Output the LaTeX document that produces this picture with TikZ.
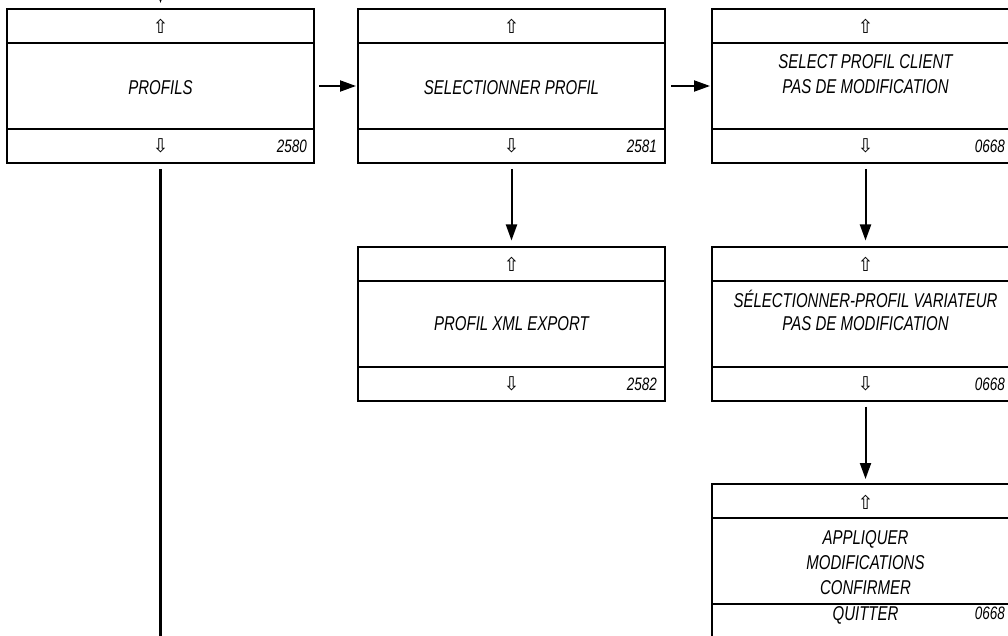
\documentclass[tikz,border=0pt]{standalone}
\usepackage{fontspec}
\usetikzlibrary{arrows.meta}
\newfontfamily\lcdfont[FakeStretch=0.75]{Liberation Sans}
\newfontfamily\symfont{DejaVu Sans}
\tikzset{
  screen/.style={draw,line width=2pt,minimum width=307pt,minimum height=154pt,inner sep=0pt},
  divider/.style={line width=2pt},
  lcd/.style={anchor=base,inner sep=0pt,font=\lcdfont\itshape\fontsize{20}{24}\selectfont},
  code/.style={anchor=base east,inner sep=0pt,font=\lcdfont\itshape\fontsize{18}{20}\selectfont},
  key/.style={anchor=base,inner sep=0pt,font=\symfont\fontsize{19}{21}\selectfont},
  flow/.style={-{Triangle[length=16pt,width=11pt]},line width=2pt}
}
\begin{document}
\begin{tikzpicture}[x=1pt,y=-1pt]
\path[use as bounding box] (0,0) rectangle (1008,636);
% screens
\node[screen] (profils) at (160.5,86) {};
\draw[divider] (7,43) -- (314,43);
\draw[divider] (7,129) -- (314,129);
\node[key] (profilsup) at (160.5,34) {⇧};
\node[lcd] (profilstxt) at (160.5,95) {PROFILS};
\node[key] (profilsdn) at (160.5,153) {⇩};
\node[code] (profilsnr) at (307,152.5) {2580};

\node[screen] (selprofil) at (511.5,86) {};
\draw[divider] (358,43) -- (665,43);
\draw[divider] (358,129) -- (665,129);
\node[key] (selprofilup) at (511.5,34) {⇧};
\node[lcd] (selprofiltxt) at (511.5,95) {SELECTIONNER PROFIL};
\node[key] (selprofildn) at (511.5,153) {⇩};
\node[code] (selprofilnr) at (657,152.5) {2581};

\node[screen] (selclient) at (865.5,86) {};
\draw[divider] (712,43) -- (1019,43);
\draw[divider] (712,129) -- (1019,129);
\node[key] (selclientup) at (865.5,34) {⇧};
\node[lcd] (selclienttxt1) at (865.5,69) {SELECT PROFIL CLIENT};
\node[lcd] (selclienttxt2) at (865.5,94) {PAS DE MODIFICATION};
\node[key] (selclientdn) at (865.5,153) {⇩};
\node[code] (selclientnr) at (1005,152.5) {0668};

\node[screen] (xmlexport) at (511.5,323.5) {};
\draw[divider] (358,280.5) -- (665,280.5);
\draw[divider] (358,366.5) -- (665,366.5);
\node[key] (xmlexportup) at (511.5,271.5) {⇧};
\node[lcd] (xmlexporttxt) at (511.5,330.5) {PROFIL XML EXPORT};
\node[key] (xmlexportdn) at (511.5,390.5) {⇩};
\node[code] (xmlexportnr) at (657,390) {2582};

\node[screen] (selvariateur) at (865.5,323.5) {};
\draw[divider] (712,280.5) -- (1019,280.5);
\draw[divider] (712,366.5) -- (1019,366.5);
\node[key] (selvariateurup) at (865.5,271.5) {⇧};
\node[lcd] (selvariateurtxt1) at (865.5,307) {SÉLECTIONNER-PROFIL VARIATEUR};
\node[lcd] (selvariateurtxt2) at (865.5,330.5) {PAS DE MODIFICATION};
\node[key] (selvariateurdn) at (865.5,390.5) {⇩};
\node[code] (selvariateurnr) at (1005,390) {0668};

\node[screen] (appliquer) at (865.5,561) {};
\draw[divider] (712,518) -- (1019,518);
\draw[divider] (712,604) -- (1019,604);
\node[key] (appliquerup) at (865.5,509) {⇧};
\node[lcd] (appliquertxt1) at (865.5,544) {APPLIQUER};
\node[lcd] (appliquertxt2) at (865.5,569) {MODIFICATIONS};
\node[lcd] (appliquertxt3) at (865.5,594.5) {CONFIRMER};
\node[lcd] (appliquerquit) at (865.5,620.5) {QUITTER};
\node[code] (appliquernr) at (1005,619.5) {0668};
% connectors
\coordinate (entry) at (160.5,-20);
\coordinate (exit) at (160.5,640);
\draw[flow,shorten >=5pt] (entry) -- (profils.north);
\draw[line width=2.5pt,shorten <=5pt] (profils.south) -- (exit);
\draw[flow,shorten <=4pt,shorten >=1pt] (profils.east) -- (selprofil.west);
\draw[flow,shorten <=5pt,shorten >=1pt] (selprofil.east) -- (selclient.west);
\draw[flow,shorten <=5pt,shorten >=5pt] (selprofil.south) -- (xmlexport.north);
\draw[flow,shorten <=5pt,shorten >=5pt] (selclient.south) -- (selvariateur.north);
\draw[flow,shorten <=5pt,shorten >=4pt] (selvariateur.south) -- (appliquer.north);
\end{tikzpicture}
\end{document}
